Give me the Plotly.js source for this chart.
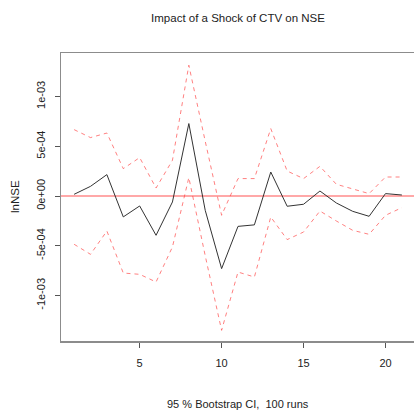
<!DOCTYPE html>
<html>
<head>
<meta charset="utf-8">
<script src="https://cdn.plot.ly/plotly-3.0.1.min.js"></script>
<style>
  html, body { margin: 0; padding: 0; overflow: hidden; background: #fff; }
  #chart { width: 416px; height: 410px; }
</style>
</head>
<body>
<div id="chart"></div>
<script>
// Impulse response horizon (steps after the shock)
const horizon = [1, 2, 3, 4, 5, 6, 7, 8, 9, 10, 11, 12, 13, 14, 15, 16, 17, 18, 19, 20, 21];

// Orthogonal impulse response of lnNSE to a CTV shock
const irf = [0.17e-4, 0.97e-4, 2.15e-4, -2.1e-4, -1.0e-4, -3.95e-4, -0.6e-4, 7.28e-4, -1.44e-4, -7.3e-4,
             -3.05e-4, -2.9e-4, 2.41e-4, -1.03e-4, -0.83e-4, 0.5e-4, -0.7e-4, -1.54e-4, -2.04e-4, 0.24e-4, 0.1e-4];

// 95 % bootstrap confidence band
const upper = [6.67e-4, 5.87e-4, 6.33e-4, 2.75e-4, 3.86e-4, 0.8e-4, 3.59e-4, 13.14e-4, 5.5e-4, -1.94e-4,
               1.75e-4, 1.75e-4, 6.77e-4, 2.51e-4, 1.75e-4, 2.98e-4, 1.18e-4, 0.74e-4, 0.24e-4, 1.91e-4, 1.91e-4];
const lower = [-4.85e-4, -5.86e-4, -3.52e-4, -7.74e-4, -7.87e-4, -8.64e-4, -5.12e-4, 1.85e-4, -6.0e-4, -13.5e-4,
               -7.64e-4, -8.14e-4, -2.11e-4, -4.38e-4, -3.62e-4, -1.51e-4, -2.51e-4, -3.45e-4, -3.85e-4, -1.94e-4, -1.17e-4];

// Axis ticks
const xTicks = [5, 10, 15, 20];
const yTicks = [-1e-3, -5e-4, 0, 5e-4, 1e-3];
const yTickText = ["-1e-03", "-5e-04", "0e+00", "5e-04", "1e-03"];

const FONT = "Liberation Sans, Arial, Helvetica, sans-serif";
const bandStyle = { color: "rgba(255,60,60,0.65)", width: 1, dash: "4px,4px" };

const traces = [
  { x: horizon, y: irf, type: "scatter", mode: "lines", name: "irf",
    line: { color: "#333333", width: 1 }, hoverinfo: "x+y" },
  { x: horizon, y: upper, type: "scatter", mode: "lines", name: "upper",
    line: bandStyle, hoverinfo: "x+y" },
  { x: horizon, y: lower, type: "scatter", mode: "lines", name: "lower",
    line: bandStyle, hoverinfo: "x+y" }
];

const layout = {
  width: 416,
  height: 410,
  margin: { l: 61, r: 1, t: 53, b: 69 },
  paper_bgcolor: "#ffffff",
  plot_bgcolor: "#ffffff",
  showlegend: false,
  font: { family: FONT, size: 11, color: "#222222" },
  title: {
    text: "Impact of a Shock of CTV on NSE",
    font: { family: FONT, size: 11.5, color: "#222222" },
    x: 238 / 416, xanchor: "center", xref: "container",
    y: 1 - 18 / 410, yanchor: "middle", yref: "container"
  },
  xaxis: {
    range: [0.2, 21.8],
    tickvals: xTicks,
    ticktext: xTicks.map(String),
    ticks: "outside", ticklen: 5, tickcolor: "#555555", tickwidth: 1,
    showline: true, mirror: true, linecolor: "#8c8c8c", linewidth: 1.5,
    showgrid: false, zeroline: false,
    tickfont: { family: FONT, size: 11, color: "#222222" },
    ticklabelstandoff: 6
  },
  yaxis: {
    range: [-14.57e-4, 14.37e-4],
    tickvals: yTicks,
    ticktext: yTickText,
    tickangle: -90,
    ticks: "outside", ticklen: 5, tickcolor: "#555555", tickwidth: 1,
    showline: true, mirror: true, linecolor: "#8c8c8c", linewidth: 1.5,
    showgrid: false, zeroline: false,
    tickfont: { family: FONT, size: 11, color: "#222222" },
    ticklabelstandoff: 5
  },
  shapes: [
    { type: "line", xref: "paper", yref: "y", x0: 0, x1: 1, y0: 0, y1: 0,
      line: { color: "rgba(255,110,110,0.6)", width: 2 }, layer: "below" }
  ],
  annotations: [
    { text: "lnNSE", xref: "paper", yref: "paper", x: 0, y: 0.5,
      xanchor: "center", yanchor: "middle", xshift: -46, textangle: -90,
      showarrow: false, font: { family: FONT, size: 11.5, color: "#222222" } },
    { text: "95 % Bootstrap CI,  100 runs", xref: "paper", yref: "paper", x: 0.5, y: 0,
      xanchor: "center", yanchor: "middle", yshift: -63,
      showarrow: false, font: { family: FONT, size: 11, color: "#222222" } }
  ]
};

Plotly.newPlot("chart", traces, layout, { staticPlot: true, displayModeBar: false });
</script>
</body>
</html>
